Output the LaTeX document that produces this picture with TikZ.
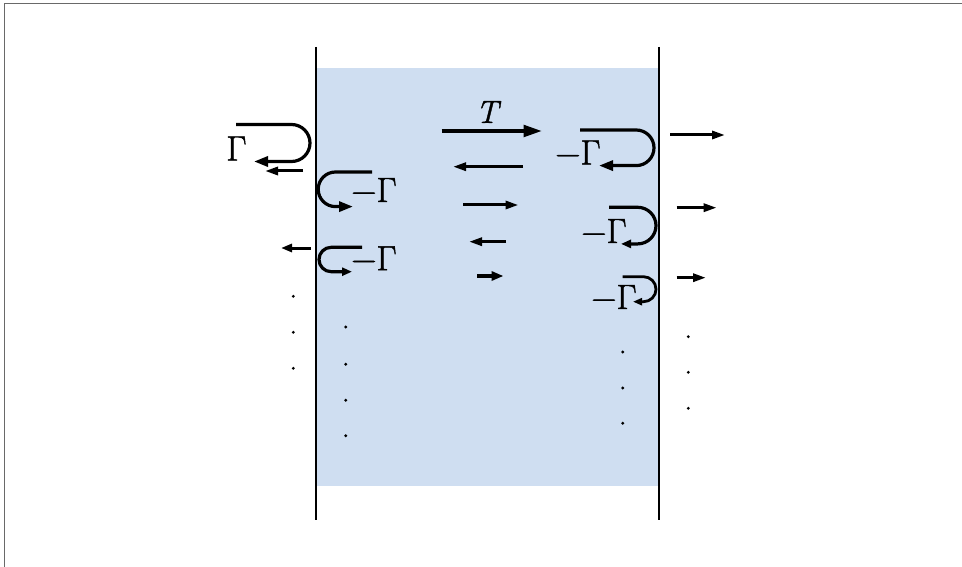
\documentclass[tikz,border=0pt]{standalone}
\usepackage{fontspec}
\newfontfamily\labfont[FakeBold=1.2]{Latin Modern Roman}
\usetikzlibrary{arrows.meta}
\definecolor{fluid}{RGB}{207,222,241}
\definecolor{framegray}{RGB}{105,105,105}
\begin{document}
\begin{tikzpicture}[x=1pt,y=-1pt,
  wall/.style={line width=2.2pt},
  uturn/.style={line width=3.2pt,-{Triangle[length=14pt,width=10pt]}},
  smallturn/.style={line width=3.2pt,-{Triangle[length=10pt,width=8pt]}},
  flow/.style={line width=3pt,-{Triangle[length=13pt,width=8pt]}},
  bigflow/.style={line width=4.5pt,-{Triangle[length=19pt,width=11pt]}},
  lab/.style={font=\labfont\fontsize{35}{35}\selectfont, inner sep=0pt},
  tlab/.style={font=\labfont\fontsize{32}{32}\selectfont\itshape, inner sep=0pt},
  dot/.style={circle,fill,inner sep=0pt,minimum size=3.2pt}]
\useasboundingbox (0,0) rectangle (962,567);
% frame (only top and left edges visible)
\draw[framegray,line width=1.4pt] (4.2,567) -- (4.2,3.6) -- (962,3.6);
% fluid layer and walls
\fill[fluid] (317,68) rectangle (659,486);
\draw[wall] (316,47) -- (316,520);
\draw[wall] (659,47) -- (659,520);

% labels
\node[lab] (g0) at (236.5,148.5) {Γ};
\node[lab] (g1) at (374,190) {−Γ};
\node[lab] (g2) at (374,258.3) {−Γ};
\node[lab] (g3) at (578,152.5) {−Γ};
\node[lab] (g4) at (604,231) {−Γ};
\node[lab] (g5) at (614,297) {−Γ};
\node[tlab] (tl) at (487,112) {T};

% left outside u-turn
\coordinate (a0) at (236,124.5);
\coordinate (b0) at (254,161.5);
\draw[uturn] (a0) -- (291.5,124.5) arc[start angle=90,end angle=-90,radius=18.5pt] -- (b0);
% left inside u-turns
\coordinate (a1) at (372,172);
\coordinate (b1) at (353,206.6);
\draw[uturn] (a1) -- (335.5,172) arc[start angle=90,end angle=270,radius=17.3pt] -- (b1);
\coordinate (a2) at (362,247.3);
\coordinate (b2) at (352,271.7);
\draw[smallturn] (a2) -- (331.2,247.3) arc[start angle=90,end angle=270,radius=12.2pt] -- (b2);
% right inside u-turns
\coordinate (a3) at (580,130);
\coordinate (b3) at (599,165.6);
\draw[uturn] (a3) -- (636.2,130) arc[start angle=90,end angle=-90,radius=17.8pt] -- (b3);
\coordinate (a4) at (609,207.3);
\coordinate (b4) at (621,243.9);
\draw[smallturn] (a4) -- (637.7,207.3) arc[start angle=90,end angle=-90,radius=18.3pt] -- (b4);
\coordinate (a5) at (622.7,276.7);
\coordinate (b5) at (633,301.7);
\draw[line width=2.8pt,-{Triangle[length=9pt,width=7pt]}] (a5) -- (643.5,276.7) arc[start angle=90,end angle=-90,radius=12.5pt] -- (b5);

% left outside straight arrows
\coordinate (s1a) at (303,171);   \coordinate (s1b) at (265,171);
\draw[flow] (s1a) -- (s1b);
\coordinate (s2a) at (311,248);   \coordinate (s2b) at (281,248);
\draw[flow,-{Triangle[length=11pt,width=8pt]}] (s2a) -- (s2b);

% middle arrows
\coordinate (m1a) at (441.7,131); \coordinate (m1b) at (542.7,131);
\draw[bigflow] (m1a) -- (m1b);
\coordinate (m2a) at (523,166.7); \coordinate (m2b) at (453,166.7);
\draw[flow] (m2a) -- (m2b);
\coordinate (m3a) at (463,205);   \coordinate (m3b) at (518.5,205);
\draw[flow] (m3a) -- (m3b);
\coordinate (m4a) at (506,241.7); \coordinate (m4b) at (469,241.7);
\draw[flow] (m4a) -- (m4b);
\coordinate (m5a) at (477,276);   \coordinate (m5b) at (503.5,276);
\draw[line width=3.6pt,-{Triangle[length=12pt,width=9pt]}] (m5a) -- (m5b);

% right outside arrows
\coordinate (r1a) at (670,135);   \coordinate (r1b) at (725,135);
\draw[flow] (r1a) -- (r1b);
\coordinate (r2a) at (676.7,207.7); \coordinate (r2b) at (716.7,207.7);
\draw[flow] (r2a) -- (r2b);
\coordinate (r3a) at (676.7,277.7); \coordinate (r3b) at (706,277.7);
\draw[flow] (r3a) -- (r3b);

% dots
\foreach \y [count=\i] in {296.3,332.3,368.3} \node[dot] (dl\i) at (293.3,\y) {};
\foreach \y [count=\i] in {327,364.3,400.3,435.7} \node[dot] (di\i) at (345.7,\y) {};
\foreach \y [count=\i] in {352,388,423.3} \node[dot] (dr\i) at (622.7,\y) {};
\foreach \y [count=\i] in {336.7,372.3,408.3} \node[dot] (do\i) at (688.3,\y) {};
\end{tikzpicture}
\end{document}
